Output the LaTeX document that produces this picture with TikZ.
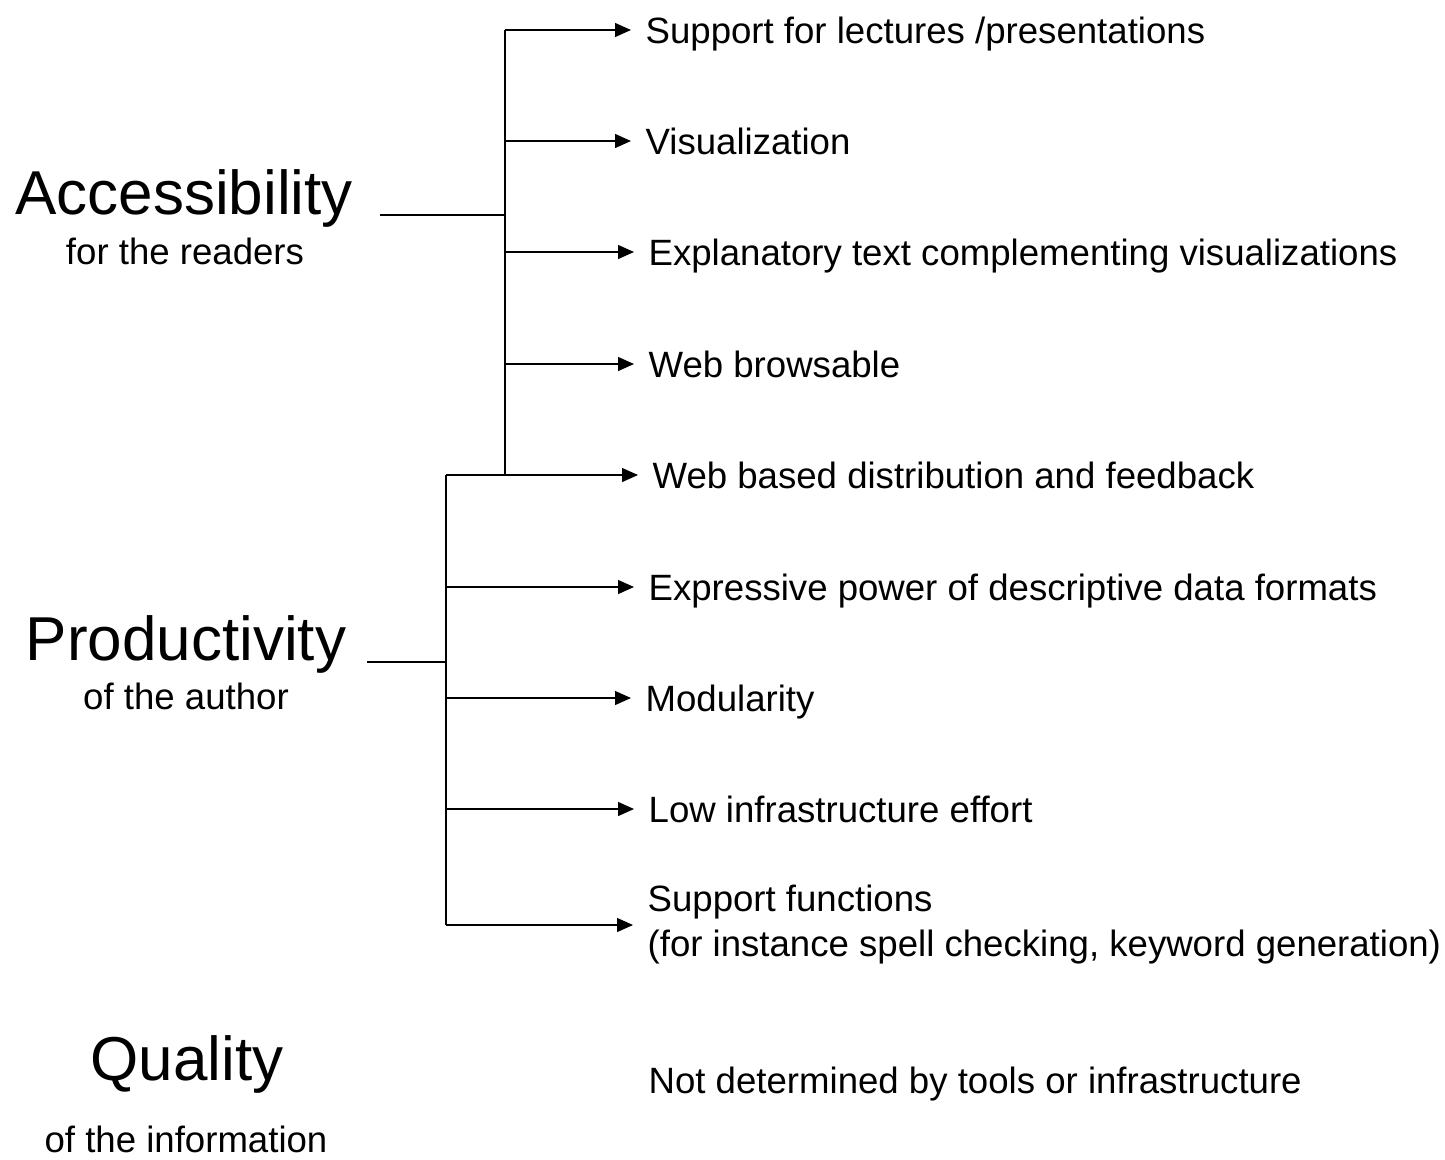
\documentclass[tikz,border=0pt]{standalone}
\usepackage{fontspec}
\setmainfont{Liberation Sans}
\usetikzlibrary{arrows.meta}

\begin{document}
\begin{tikzpicture}[x=1pt,y=-1pt,
  title/.style={font=\fontsize{62}{70}\selectfont, anchor=base},
  sub/.style={font=\fontsize{36.6}{45}\selectfont, anchor=base},
  lbl/.style={font=\fontsize{36.6}{45}\selectfont, anchor=west, inner sep=0pt, align=left},
  item/.style={lbl, text height=26pt, text depth=0pt},
  arr/.style={-{Triangle[length=16pt,width=14pt]}, shorten >=14pt},
  every path/.style={line width=1.3pt}]
\useasboundingbox (0,0) rectangle (1445,1159);
% left hand labels
\node [title] (acc) at (184,214) {Accessibility};
\node [sub] (accsub) at (185,264) {for the readers};
\node [title] (prod) at (186,660) {Productivity};
\node [sub] (prodsub) at (186,709) {of the author};
\node [title] (qual) at (187,1080) {Quality};
\node [sub] (qualsub) at (186,1152) {of the information};
% right hand items
\node [item] (a1) at (645,30) {Support for lectures /presentations};
\node [item] (a2) at (645,141) {Visualization};
\node [item] (a3) at (648,252) {Explanatory text complementing visualizations};
\node [item] (a4) at (648,364) {Web browsable};
\node [item] (a5) at (652,475) {Web based distribution and feedback};
\node [item] (p1) at (648,587) {Expressive power of descriptive data formats};
\node [item] (p2) at (645,698) {Modularity};
\node [item] (p3) at (648,809) {Low infrastructure effort};
\node [lbl] (p4) at (647,925) {Support functions\\(for instance spell checking, keyword generation)};
\node [item] (nodet) at (648,1080) {Not determined by tools or infrastructure};
% tree
\coordinate (accroot) at (380,215);
\coordinate (acctrunk) at (505,215);
\coordinate (prodroot) at (367,662);
\coordinate (prodtrunk) at (446,662);
\draw (accroot) -- (acctrunk);
\draw (a1.west -| acctrunk) -- (a5.west -| acctrunk);
\foreach \n in {a1,a2,a3,a4,a5}
  \draw [arr] (\n.west -| acctrunk) -- (\n.west);
\draw (prodroot) -- (prodtrunk);
\draw (a5.west -| prodtrunk) -- (p4.west -| prodtrunk);
\draw (a5.west -| prodtrunk) -- (a5.west -| acctrunk);
\foreach \n in {p1,p2,p3,p4}
  \draw [arr] (\n.west -| prodtrunk) -- (\n.west);
\end{tikzpicture}
\end{document}
